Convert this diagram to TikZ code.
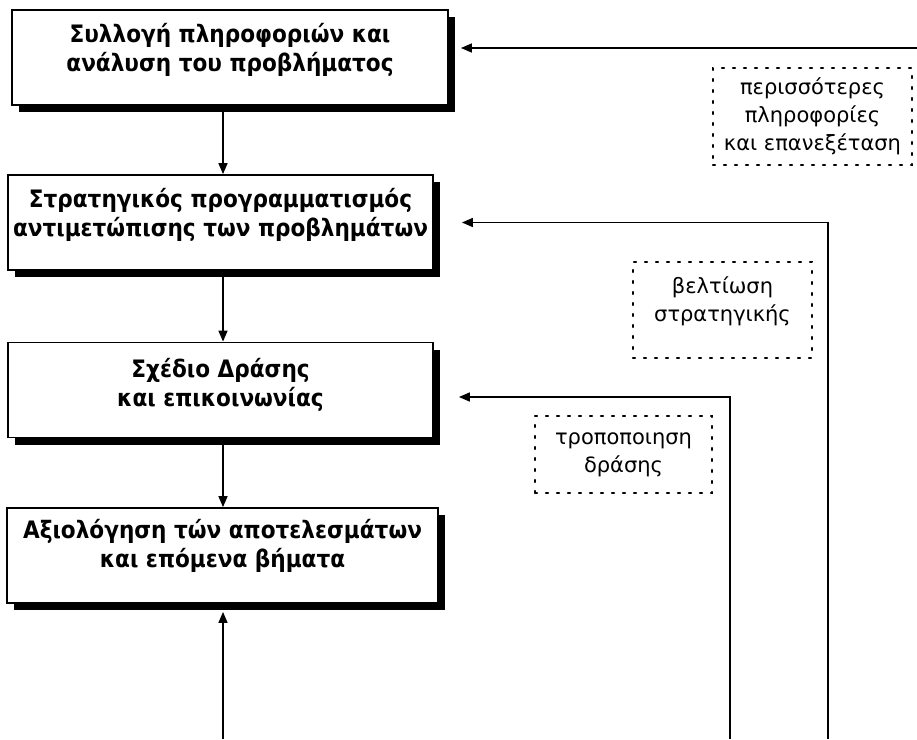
\documentclass[tikz,border=0pt]{standalone}
\usepackage{fontspec}
\setmainfont{DejaVu Sans}
\newfontfamily\stagefont{DejaVu Sans}[FakeStretch=0.9]
\usetikzlibrary{arrows.meta,shadows}
\newcommand\lowstrut[1]{\rule[-#1]{0pt}{0pt}}
\begin{document}
\begin{tikzpicture}[x=1pt,y=1pt,
  stage/.style={draw,line width=1.8pt,fill=white,align=center,inner sep=0pt,
    font=\stagefont\fontsize{24}{29}\selectfont\bfseries,minimum height=95pt,
    drop shadow={shadow xshift=7pt,shadow yshift=-7pt,opacity=1,fill=black}},
  note/.style={draw,line width=2.2pt,dash pattern=on 2pt off 9pt,line cap=round,
    align=center,inner sep=0pt,font=\fontsize{21}{28}\selectfont},
  flow/.style={line width=1.6pt,-{Triangle[length=11pt,width=9pt]}}]
\useasboundingbox (0,0) rectangle (917,-739);
\node[stage,minimum width=436pt] (collect) at (230,-57.5) {Συλλογή πληροφοριών και\\ανάλυση του προβλήματος\lowstrut{20pt}};
\node[stage,minimum width=425pt] (plan) at (220.5,-222.5) {Στρατηγικός προγραμματισμός\\αντιμετώπισης των προβλημάτων\lowstrut{20pt}};
\node[stage,minimum width=425pt] (action) at (220.5,-390) {Σχέδιο Δράσης\\και επικοινωνίας\lowstrut{16pt}};
\node[stage,minimum width=431pt] (review) at (222.5,-555.5) {Αξιολόγηση τών αποτελεσμάτων\\και επόμενα βήματα\lowstrut{24pt}};
\node[note,minimum width=199pt,minimum height=97pt] (more) at (812.5,-116.5) {περισσότερες\\πληροφορίες\\και επανεξέταση};
\node[note,minimum width=179pt,minimum height=96pt] (improve) at (722.5,-310) {βελτίωση\\στρατηγικής\lowstrut{22pt}};
\node[note,minimum width=177pt,minimum height=77pt] (modify) at (623.5,-454.5) {τροποποιηση\\δράσης};
\coordinate (spine) at (223,0);
\coordinate (in0) at (223,-739);
\coordinate (fbinfo) at (917,-48);
\coordinate (fbplan) at (828,-739);
\coordinate (fbaction) at (730,-739);
\draw[flow] (collect.south -| spine) -- (plan.north -| spine);
\draw[flow] (plan.south -| spine) -- (action.north -| spine);
\draw[flow] (action.south -| spine) -- (review.north -| spine);
\draw[flow] (in0) -- ([yshift=-8pt]review.south -| spine);
\draw[flow] (fbinfo) -- ([xshift=12pt]collect.east |- fbinfo);
\draw[flow] (fbplan) |- ([xshift=28pt]plan.east);
\draw[flow] (fbaction) |- ([xshift=25pt,yshift=-7pt]action.east);
\end{tikzpicture}
\end{document}
